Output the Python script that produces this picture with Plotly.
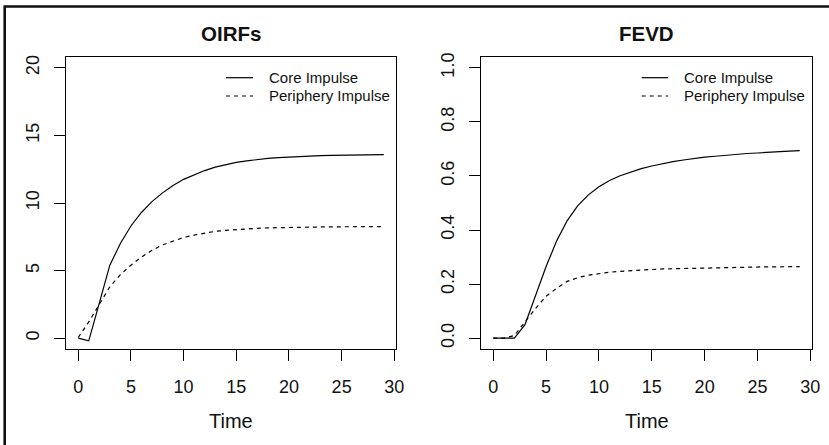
import plotly.graph_objects as go

# ---- data ----
time = list(range(30))
core_oirf = [0.0, -0.2, 2.6, 5.4, 7.0, 8.3, 9.3, 10.1, 10.75, 11.3, 11.75, 12.1, 12.4, 12.65,
             12.85, 13.0, 13.12, 13.22, 13.3, 13.36, 13.41, 13.45, 13.48, 13.51, 13.53, 13.55,
             13.56, 13.57, 13.58, 13.58]
peri_oirf = [0.05, 1.2, 2.5, 3.8, 4.7, 5.4, 6.0, 6.5, 6.9, 7.2, 7.45, 7.63, 7.78, 7.9, 7.98,
             8.04, 8.09, 8.13, 8.16, 8.18, 8.2, 8.21, 8.22, 8.23, 8.24, 8.24, 8.25, 8.25, 8.25, 8.26]
core_fevd = [0, 0, 0, 0.05, 0.155, 0.265, 0.36, 0.435, 0.49, 0.53, 0.56, 0.583, 0.601, 0.615,
             0.627, 0.637, 0.646, 0.653, 0.659, 0.665, 0.67, 0.673, 0.677, 0.68, 0.683, 0.685,
             0.688, 0.69, 0.692, 0.694]
peri_fevd = [0, 0, 0.01, 0.06, 0.11, 0.155, 0.185, 0.21, 0.224, 0.233, 0.239, 0.244, 0.247,
             0.25, 0.252, 0.254, 0.256, 0.257, 0.258, 0.259, 0.26, 0.261, 0.262, 0.262, 0.263,
             0.263, 0.264, 0.264, 0.265, 0.265]
x_ticks = [0, 5, 10, 15, 20, 25, 30]
oirf_ticks = [0, 5, 10, 15, 20]
fevd_ticks = [0.0, 0.2, 0.4, 0.6, 0.8, 1.0]
fevd_ticklabels = ["0.0", "0.2", "0.4", "0.6", "0.8", "1.0"]
series_names = ["Core Impulse", "Periphery Impulse"]
titles = ["OIRFs", "FEVD"]

W, H = 829, 445
FONT = "Liberation Sans, Arial, Helvetica, sans-serif"
TXT = "#111"


def px_x(p):
    return p / W


def px_y(p):
    return 1 - p / H


fig = go.Figure()

line_core = dict(color="black", width=1.2)
line_peri = dict(color="black", width=1.2, dash="4px,4px")
styles = [line_core, line_peri]

panels = [
    ("x", "y", [core_oirf, peri_oirf]),
    ("x2", "y2", [core_fevd, peri_fevd]),
]
for xa, ya, series in panels:
    for name, vals, st in zip(series_names, series, styles):
        fig.add_trace(go.Scatter(x=time, y=vals, mode="lines", line=st, name=name,
                                 xaxis=xa, yaxis=ya, showlegend=False, hoverinfo="skip"))

ydom = [px_y(349), px_y(57)]
axis_common = dict(showgrid=False, zeroline=False, showline=True, mirror=True, linecolor="black",
                   linewidth=1, ticks="outside", ticklen=11, tickwidth=1, tickcolor="black",
                   tickfont=dict(family=FONT, size=18, color=TXT), automargin=False)

fig.update_layout(
    width=W, height=H,
    margin=dict(l=0, r=0, t=0, b=0),
    paper_bgcolor="white", plot_bgcolor="white",
    font=dict(family=FONT, color=TXT),
    showlegend=False,
    xaxis=dict(domain=[px_x(66), px_x(396)], range=[-1.16, 30.16], tickvals=x_ticks,
               anchor="y", ticklabelstandoff=10, **axis_common),
    yaxis=dict(domain=ydom, range=[-0.8, 20.8], tickvals=oirf_ticks, tickangle=-90,
               anchor="x", ticklabelstandoff=8, **axis_common),
    xaxis2=dict(domain=[px_x(481), px_x(812)], range=[-1.16, 30.16], tickvals=x_ticks,
                anchor="y2", ticklabelstandoff=10, **axis_common),
    yaxis2=dict(domain=ydom, range=[-0.04, 1.04], tickvals=fevd_ticks,
                ticktext=fevd_ticklabels, tickangle=-90, anchor="x2", ticklabelstandoff=8,
                **axis_common),
)

annotations = []
shapes = []
legend_pos = [(226, 253, 266.7), (641.7, 668, 681.7)]
legend_rows = [77.7, 96.0]
for xd, t, (lx0, lx1, tx) in zip(["x domain", "x2 domain"], titles, legend_pos):
    annotations.append(dict(text=f"<b>{t}</b>", xref=xd, x=0.5, yref="paper", y=px_y(34),
                            xanchor="center", yanchor="middle", showarrow=False,
                            font=dict(family=FONT, size=20.5, color=TXT)))
    annotations.append(dict(text="Time", xref=xd, x=0.5, yref="paper", y=px_y(421),
                            xanchor="center", yanchor="middle", showarrow=False,
                            font=dict(family=FONT, size=20, color=TXT)))
    # manual legend (R style, no box)
    for name, st, ry in zip(series_names, styles, legend_rows):
        shapes.append(dict(type="line", xref="paper", yref="paper", x0=px_x(lx0), x1=px_x(lx1),
                           y0=px_y(ry), y1=px_y(ry), line=st))
        annotations.append(dict(text=name, xref="paper", x=px_x(tx), yref="paper", y=px_y(ry),
                                xanchor="left", yanchor="middle", showarrow=False,
                                font=dict(family=FONT, size=15, color=TXT)))

# outer frame (left and top edges visible)
shapes.append(dict(type="rect", xref="paper", yref="paper", x0=px_x(4.7), x1=1.05,
                   y0=-0.05, y1=px_y(6.5), line=dict(color=TXT, width=2.6),
                   fillcolor="rgba(0,0,0,0)", layer="above"))
fig.update_layout(annotations=annotations, shapes=shapes)

fig.write_html("out.html", config={"displayModeBar": False, "staticPlot": True},
               post_script="document.body.style.margin='0';")
